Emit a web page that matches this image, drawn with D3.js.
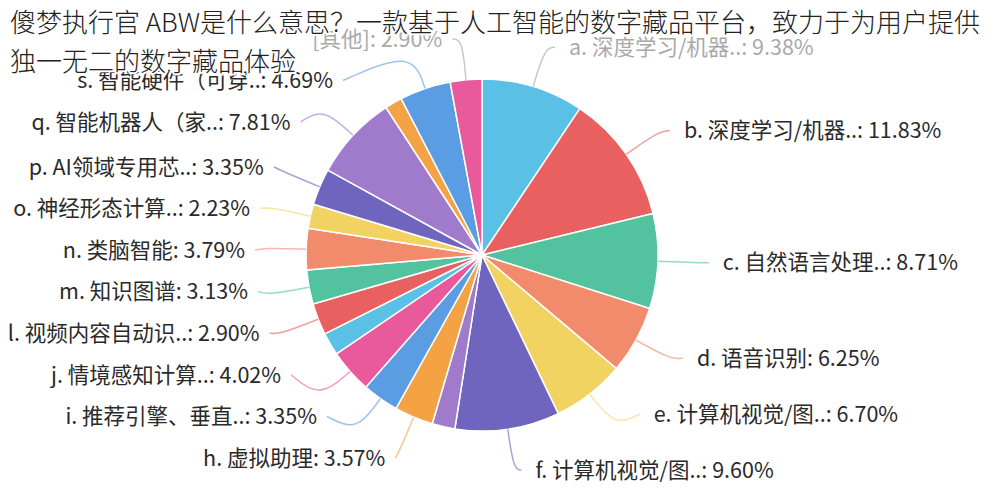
<!DOCTYPE html>
<html><head><meta charset="utf-8">
<script src="https://cdn.jsdelivr.net/npm/d3@7"></script>
<style>body{margin:0;background:#fff}svg{display:block}</style>
</head><body>
<svg id="chart" width="1000" height="500"></svg>
<script>
// ---- data ----
const names = [
  "a. 深度学习/机器..", "b. 深度学习/机器..", "c. 自然语言处理..", "d. 语音识别",
  "e. 计算机视觉/图..", "f. 计算机视觉/图..", "g. 其他技术..", "h. 虚拟助理",
  "i. 推荐引擎、垂直..", "j. 情境感知计算..", "k. 其他应用..", "l. 视频内容自动识..",
  "m. 知识图谱", "n. 类脑智能", "o. 神经形态计算..", "p. AI领域专用芯..",
  "q. 智能机器人（家..", "r. 其他硬件..", "s. 智能硬件（可穿..", "[其他]"
];
const values = [9.38, 11.83, 8.71, 6.25, 6.70, 9.60, 2.10, 3.57, 3.35, 4.02,
                2.10, 2.90, 3.13, 3.79, 2.23, 3.35, 7.81, 1.60, 4.69, 2.90];
const titleLines = [
  "傻梦执行官 ABW是什么意思？一款基于人工智能的数字藏品平台，致力于为用户提供",
  "独一无二的数字藏品体验"
];

// ---- styles / layout ----
const palette = ["#5bc0e6","#e8605f","#52c39e","#f28b6b","#f2d362",
                 "#6f65bf","#a07bcc","#f3a244","#5b9de2","#e95a9c"];
const dimmed = new Set(["a. 深度学习/机器..", "[其他]"]);
const minLabelPct = 2.2;
const cx = 482, cy = 255, r = 176, R = 217, len2 = 10;
const sideCfg = {
  left:  {gap: 41.6, maxY: 458, textGap: 10},
  right: {gap: 56,   maxY: 470, textGap: 14}
};
const font = "'Noto Sans CJK SC','Noto Sans',sans-serif";

const svg = d3.select("#chart");
const data = names.map((n, i) => ({name: n, value: values[i], idx: i}));
const arcs = d3.pie().sort(null).value(d => d.value)(data);
const arcGen = d3.arc().innerRadius(0).outerRadius(r);
const color = i => palette[i % palette.length];

const g = svg.append("g").attr("transform", `translate(${cx},${cy})`);
g.selectAll("path.slice").data(arcs).join("path")
  .attr("class", "slice")
  .attr("d", arcGen)
  .attr("fill", d => color(d.data.idx))
  .attr("stroke", "#fff").attr("stroke-width", 1.5).attr("stroke-linejoin", "round");

// ---- labels ----
const labels = arcs.filter(d => d.data.value >= minLabelPct).map(d => {
  const a = (d.startAngle + d.endAngle) / 2;
  const s = Math.sin(a), c = -Math.cos(a);
  return {
    d, a,
    side: s >= 0 ? "right" : "left",
    start: [cx + r * s, cy + r * c],
    nat: [cx + R * s, cy + R * c],
    y: cy + R * c
  };
});

["left", "right"].forEach(side => {
  const cfg = sideCfg[side];
  const L = labels.filter(l => l.side === side).sort((p, q) => p.y - q.y);
  for (let i = 1; i < L.length; i++) L[i].y = Math.max(L[i].y, L[i-1].y + cfg.gap);
  if (L.length && L[L.length-1].y > cfg.maxY) {
    L[L.length-1].y = cfg.maxY;
    for (let i = L.length - 2; i >= 0; i--) L[i].y = Math.min(L[i].y, L[i+1].y - cfg.gap);
  }
  L.forEach(l => {
    const dy = l.y - cy;
    const dx = Math.sqrt(Math.max(R * R - dy * dy, 0));
    const dir = side === "right" ? 1 : -1;
    l.x = cx + dir * dx;
    l.end = [l.x + dir * len2, l.y];
    l.tx = l.end[0] + dir * cfg.textGap;
    l.anchor = side === "right" ? "start" : "end";
  });
});

const lineGen = d3.line().curve(d3.curveBasis);
svg.append("g").selectAll("path").data(labels).join("path")
  .attr("d", l => lineGen([l.start, l.nat, l.end]))
  .attr("fill", "none")
  .attr("stroke", l => dimmed.has(l.d.data.name) ? "#c8c8c8" : color(l.d.data.idx))
  .attr("stroke-opacity", l => dimmed.has(l.d.data.name) ? 1 : 0.6)
  .attr("stroke-width", 1.5);

svg.append("g").selectAll("text").data(labels).join("text")
  .attr("x", l => l.tx).attr("y", l => l.y).attr("dy", "0.36em")
  .attr("text-anchor", l => l.anchor)
  .attr("font-family", font).attr("font-size", 21.5)
  .attr("fill", l => dimmed.has(l.d.data.name) ? "#a9a9a9" : "#2a2a2a")
  .text(l => `${l.d.data.name}: ${l.d.data.value.toFixed(2)}%`);

// ---- title overlay ----
svg.append("g").selectAll("text").data(titleLines).join("text")
  .attr("x", 10).attr("y", (d, i) => 32 + i * 39)
  .attr("font-family", font).attr("font-size", 26).attr("font-weight", 300)
  .attr("fill", "#222")
  .attr("stroke", "#fff").attr("stroke-width", 4).attr("paint-order", "stroke")
  .text(d => d);
</script>
</body></html>
